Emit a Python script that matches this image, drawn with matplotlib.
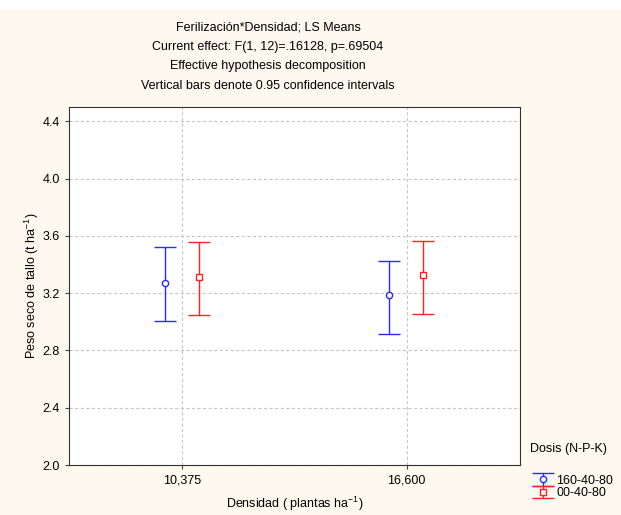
import numpy as np
import matplotlib
matplotlib.use("Agg")
import matplotlib.pyplot as plt
from matplotlib.patches import Rectangle

plt.rcParams['font.family'] = ['Liberation Sans', 'DejaVu Sans']
plt.rcParams['mathtext.fontset'] = 'custom'
plt.rcParams['mathtext.rm'] = 'Liberation Sans'
plt.rcParams['mathtext.it'] = 'Liberation Sans'

# data
densidad = ['10,375', '16,600']
dosis = ['160-40-80', '00-40-80']
means = {'160-40-80': [3.268, 3.186], '00-40-80': [3.310, 3.326]}
upper = {'160-40-80': [3.521, 3.428], '00-40-80': [3.558, 3.565]}
lower = {'160-40-80': [3.007, 2.916], '00-40-80': [3.044, 3.051]}
colors = {'160-40-80': '#2a2aff', '00-40-80': '#ff2222'}
markers = {'160-40-80': 'o', '00-40-80': 's'}
offsets = {'160-40-80': -0.077, '00-40-80': 0.074}
yticks = [2.0, 2.4, 2.8, 3.2, 3.6, 4.0, 4.4]

bg = '#fdf9ee'
fig = plt.figure(figsize=(6.21, 5.15), dpi=100, facecolor=bg)
# white strip along the top edge
fig.patches.append(Rectangle((0, 1 - 10 / 515), 1, 10 / 515, transform=fig.transFigure,
                             facecolor='white', edgecolor='none', zorder=-1))
ax = fig.add_axes([69 / 621, 50 / 515, 451 / 621, 358 / 515])
ax.set_facecolor('white')

x = np.arange(len(densidad))
handles = []
for d in dosis:
    m = np.array(means[d])
    err = [m - np.array(lower[d]), np.array(upper[d]) - m]
    h = ax.errorbar(x + offsets[d], m, yerr=err, fmt=markers[d], color=colors[d],
                    mfc='white', mec=colors[d], ms=4.5, mew=1, ecolor=colors[d],
                    elinewidth=1, capsize=8, capthick=1, label=d)
    handles.append(h)

ax.set_xlim(-0.505, 1.505)
ax.set_ylim(2.0, 4.5)
ax.set_xticks(x)
ax.set_xticklabels(densidad)
ax.set_yticks(yticks)
ax.set_yticklabels(['%.1f' % t for t in yticks])
ax.tick_params(labelsize=9, length=3, width=0.8, color='#444444')
ax.grid(True, linestyle=(0, (3, 2)), color='#c8c8c8', linewidth=0.8)
ax.set_axisbelow(True)
for s in ax.spines.values():
    s.set_linewidth(0.8)
    s.set_color('#333333')

ax.set_xlabel('Densidad ( plantas ha$^{-1}$)', fontsize=9, labelpad=6)
ax.set_ylabel('Peso seco de tallo (t ha$^{-1}$)', fontsize=9, labelpad=1)

title_lines = ['Ferilización*Densidad; LS Means',
               'Current effect: F(1, 12)=.16128, p=.69504',
               'Effective hypothesis decomposition',
               'Vertical bars denote 0.95 confidence intervals']
for i, t in enumerate(title_lines):
    fig.text(268 / 621, 1 - (27 + 19.7 * i) / 515, t, ha='center', va='center', fontsize=9)

fig.text(530 / 621, 1 - 449 / 515, 'Dosis (N-P-K)', ha='left', va='center', fontsize=9)
leg = fig.legend(handles=handles, labels=dosis, loc='upper left',
                 bbox_to_anchor=(524 / 621, 1 - 466 / 515), frameon=False,
                 fontsize=9, handlelength=1.6, handletextpad=0.3,
                 labelspacing=0.05, borderpad=0.2)

fig.savefig('out.png', dpi=100, facecolor=bg)
